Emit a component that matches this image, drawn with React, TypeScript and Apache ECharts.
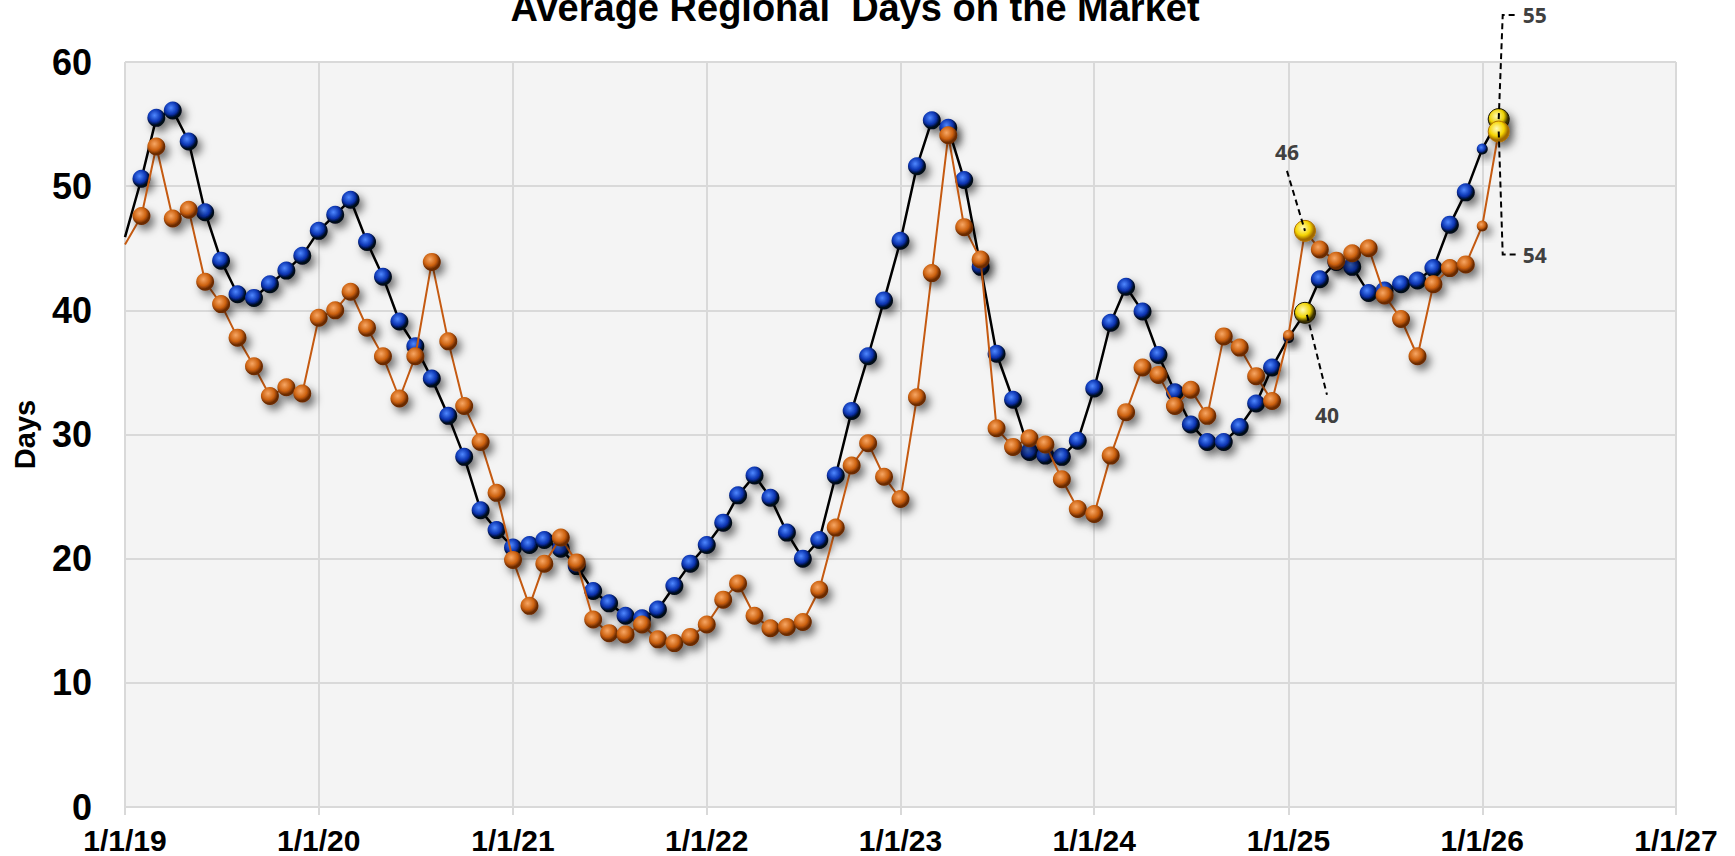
import React, { useEffect, useRef } from "react";
import * as echarts from "echarts";

const TITLE = "Average Regional  Days on the Market";
const Y_NAME = "Days";
const FIRST_YEAR = 2019;
const X_MIN_YEAR = 2019;
const X_MAX_YEAR = 2027;
const Y_MIN = 0;
const Y_MAX = 60;
const Y_STEP = 10;

// Black line, blue markers (monthly, Jan 2019 .. Feb 2026)
const BLUE_VALUES: number[] = [
  45.9, 50.6, 55.5, 56.1, 53.6, 47.9, 44.0, 41.3, 41.0, 42.1, 43.2, 44.4, // 2019
  46.4, 47.7, 48.9, 45.5, 42.7, 39.1, 37.1, 34.5, 31.5, 28.2, 23.9, 22.3, // 2020
  20.9, 21.1, 21.5, 20.8, 19.4, 17.4, 16.4, 15.4, 15.2, 15.9, 17.8, 19.6, // 2021
  21.1, 22.9, 25.1, 26.7, 24.9, 22.1, 20.0, 21.5, 26.7, 31.9, 36.3, 40.8, // 2022
  45.6, 51.6, 55.3, 54.7, 50.5, 43.5, 36.5, 32.8, 28.6, 28.3, 28.2, 29.5, // 2023
  33.7, 39.0, 41.9, 39.9, 36.4, 33.4, 30.8, 29.4, 29.4, 30.6, 32.5, 35.4, // 2024
  37.8, 39.8, 42.5, 43.9, 43.5, 41.4, 41.6, 42.1, 42.4, 43.4, 46.9, 49.5, // 2025
  53.0, 55.4, // 2026
];

// Orange line, orange markers (monthly, Jan 2019 .. Feb 2026)
const ORANGE_VALUES: number[] = [
  45.3, 47.6, 53.2, 47.4, 48.1, 42.3, 40.5, 37.8, 35.5, 33.1, 33.8, 33.3, // 2019
  39.4, 40.0, 41.5, 38.6, 36.3, 32.9, 36.3, 43.9, 37.5, 32.3, 29.4, 25.3, // 2020
  19.9, 16.2, 19.6, 21.7, 19.7, 15.1, 14.0, 13.9, 14.7, 13.5, 13.2, 13.7, // 2021
  14.7, 16.7, 18.0, 15.4, 14.4, 14.5, 14.9, 17.5, 22.5, 27.5, 29.3, 26.6, // 2022
  24.8, 33.0, 43.0, 54.1, 46.7, 44.1, 30.5, 29.0, 29.7, 29.2, 26.4, 24.0, // 2023
  23.6, 28.3, 31.8, 35.4, 34.8, 32.3, 33.6, 31.5, 37.9, 37.0, 34.7, 32.7, // 2024
  38.0, 46.4, 44.9, 44.0, 44.6, 45.0, 41.2, 39.3, 36.3, 42.1, 43.4, 43.7, // 2025
  46.8, 54.4, // 2026
];

const HIDDEN_MARKERS = [0];
const SMALL_MARKERS = [72, 84];
const HIGHLIGHT_MARKERS = [73, 85];

// annotations: series (0 blue, 1 orange), point index
const ANNOTATIONS = [
  { series: 1, index: 73, kind: "upLeft" },
  { series: 0, index: 73, kind: "downRight" },
  { series: 0, index: 85, kind: "elbowUp" },
  { series: 1, index: 85, kind: "elbowDown" },
];

const FONT = "'Liberation Sans', Arial, sans-serif";

const monthDate = (i: number) => new Date(FIRST_YEAR, i, 1).getTime();

const ball = (c0: string, c1: string, c2: string) =>
  new echarts.graphic.RadialGradient(0.4, 0.36, 0.64, [
    { offset: 0, color: c0 },
    { offset: 0.55, color: c1 },
    { offset: 0.85, color: c2 },
    { offset: 1, color: c2 },
  ]);

const shadow = {
  shadowBlur: 8,
  shadowColor: "rgba(0,0,0,0.55)",
  shadowOffsetX: 4,
  shadowOffsetY: 5,
};

function buildData(values: number[], yellow: any, edge: string) {
  return values.map((v, i) => {
    const item: any = { value: [monthDate(i), v] };
    if (HIDDEN_MARKERS.includes(i)) item.symbol = "none";
    else if (SMALL_MARKERS.includes(i)) item.symbolSize = 11;
    else if (HIGHLIGHT_MARKERS.includes(i)) {
      item.symbolSize = 21;
      item.itemStyle = { color: yellow, borderColor: edge, borderWidth: 1, ...shadow };
    }
    return item;
  });
}

export default function App() {
  const ref = useRef<HTMLDivElement>(null);
  useEffect(() => {
    if (!ref.current) return;
    const chart = echarts.init(ref.current, undefined, { renderer: "svg" });
    const blueBall = ball("#4f88ff", "#0a33b0", "#000818");
    const orangeBall = ball("#f7a765", "#cc610f", "#6a2a02");
    const yellowBallA = ball("#fffbb8", "#efd200", "#3a3000");
    const yellowBallB = ball("#fffbb8", "#f6d400", "#a06a00");

    const option: any = {
      animation: false,
      backgroundColor: "#ffffff",
      textStyle: { fontFamily: FONT },
      grid: {
        left: 125,
        right: 59,
        top: 62,
        bottom: 49,
        show: true,
        backgroundColor: "#f4f4f4",
        borderWidth: 0,
        containLabel: false,
        outerBoundsMode: "none",
      },
      xAxis: {
        type: "time",
        min: new Date(X_MIN_YEAR, 0, 1).getTime(),
        max: new Date(X_MAX_YEAR, 0, 1).getTime(),
        splitNumber: X_MAX_YEAR - X_MIN_YEAR,
        minInterval: 365 * 86400000,
        axisLine: { show: true, lineStyle: { color: "#d9d9d9", width: 2 } },
        axisTick: { show: true, length: 8, lineStyle: { color: "#d9d9d9", width: 2 } },
        minorTick: { show: false },
        splitLine: { show: true, lineStyle: { color: "#d9d9d9", width: 2 } },
        axisLabel: {
          show: true,
          showMinLabel: true,
          showMaxLabel: true,
          hideOverlap: false,
          margin: 18,
          color: "#000",
          fontSize: 30,
          fontWeight: "bold",
          fontFamily: FONT,
          formatter: (v: number) => {
            const d = new Date(v);
            return `${d.getMonth() + 1}/${d.getDate()}/${String(d.getFullYear()).slice(2)}`;
          },
        },
      },
      yAxis: {
        type: "value",
        min: Y_MIN,
        max: Y_MAX,
        interval: Y_STEP,
        axisLine: { show: false },
        axisTick: { show: false },
        splitLine: { show: true, lineStyle: { color: "#d9d9d9", width: 2 } },
        axisLabel: {
          margin: 33,
          color: "#000",
          fontSize: 36,
          fontWeight: "bold",
          fontFamily: FONT,
        },
        name: Y_NAME,
        nameLocation: "middle",
        nameRotate: 90,
        nameGap: 86,
        nameTextStyle: { color: "#000", fontSize: 29, fontWeight: "bold", fontFamily: FONT },
      },
      series: [
        {
          type: "line",
          name: "blue",
          data: buildData(BLUE_VALUES, yellowBallA, "#1a1400"),
          symbol: "circle",
          symbolSize: 18,
          lineStyle: { color: "#000000", width: 2.5 },
          itemStyle: { color: blueBall, ...shadow },
          z: 2,
        },
        {
          type: "line",
          name: "orange",
          data: buildData(ORANGE_VALUES, yellowBallB, "#b07000"),
          symbol: "circle",
          symbolSize: 18,
          lineStyle: { color: "#c55a11", width: 2 },
          itemStyle: { color: orangeBall, ...shadow },
          z: 3,
        },
      ],
    };
    chart.setOption(option);

    const valuesBySeries = [BLUE_VALUES, ORANGE_VALUES];
    const dash = { stroke: "#000", lineWidth: 2, lineDash: [6, 4], fill: null };
    const labelStyle = (text: string, align: string) => ({
      text,
      fontSize: 21,
      fontWeight: "bold",
      fontFamily: "'Open Sans', sans-serif",
      fill: "#404040",
      align,
      verticalAlign: "middle",
      textAlign: align,
      textVerticalAlign: "middle",
    });
    const elements: any[] = [
      {
        type: "text",
        x: 855,
        y: 8,
        z: 100,
        style: {
          text: TITLE,
          fontSize: 38,
          fontWeight: "bold",
          fontFamily: FONT,
          fill: "#000",
          align: "center",
          verticalAlign: "middle",
          textAlign: "center",
          textVerticalAlign: "middle",
        },
      },
    ];
    ANNOTATIONS.forEach((a) => {
      const v = valuesBySeries[a.series][a.index];
      const [x, y] = chart.convertToPixel({ xAxisIndex: 0, yAxisIndex: 0 }, [monthDate(a.index), v]) as number[];
      const text = String(Math.round(v));
      let pts: number[][] = [];
      let lx = 0, ly = 0, align = "center";
      if (a.kind === "upLeft") {
        pts = [[x - 18, y - 60], [x, y]];
        lx = x - 18; ly = y - 79;
      } else if (a.kind === "downRight") {
        pts = [[x + 2, y + 2], [x + 22, y + 82]];
        lx = x + 22; ly = y + 102;
      } else if (a.kind === "elbowUp") {
        pts = [[x, y], [x + 4, y - 104], [x + 17, y - 104]];
        lx = x + 24; ly = y - 104; align = "left";
      } else {
        pts = [[x, y], [x + 4, y + 123], [x + 17, y + 123]];
        lx = x + 24; ly = y + 123; align = "left";
      }
      elements.push({ type: "polyline", z: 100, shape: { points: pts }, style: dash, silent: true });
      elements.push({ type: "text", z: 100, x: lx, y: ly, style: labelStyle(text, align) });
    });
    chart.setOption({ graphic: elements });

    return () => chart.dispose();
  }, []);

  return (
    <div
      ref={ref}
      style={{ position: "fixed", left: 0, top: 0, width: 1735, height: 856, background: "#fff" }}
    />
  );
}
